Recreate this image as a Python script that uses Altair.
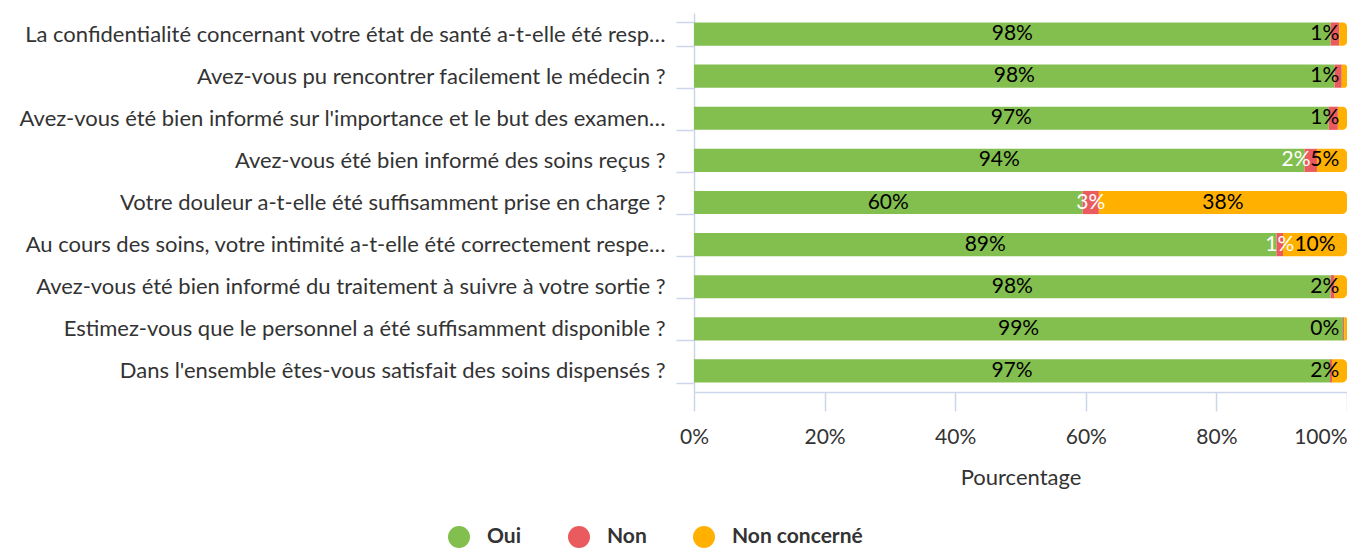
import altair as alt
import pandas as pd

questions = [
    "La confidentialité concernant votre état de santé a-t-elle été resp…",
    "Avez-vous pu rencontrer facilement le médecin ?",
    "Avez-vous été bien informé sur l'importance et le but des examen…",
    "Avez-vous été bien informé des soins reçus ?",
    "Votre douleur a-t-elle été suffisamment prise en charge ?",
    "Au cours des soins, votre intimité a-t-elle été correctement respe…",
    "Avez-vous été bien informé du traitement à suivre à votre sortie ?",
    "Estimez-vous que le personnel a été suffisamment disponible ?",
    "Dans l'ensemble êtes-vous satisfait des soins dispensés ?",
]
oui = [97.5, 98.1, 97.2, 93.5, 59.5, 89.2, 97.5, 99.4, 97.4]
non = [1.3, 1.1, 1.4, 1.9, 2.5, 1.0, 0.6, 0.2, 0.3]
non_concerne = [1.2, 0.8, 1.4, 4.6, 38.0, 9.8, 1.9, 0.4, 2.3]
series = ["Oui", "Non", "Non concerné"]
colors = ["#83BF4F", "#EA5B5F", "#FFB000"]
x_ticks = [0, 20, 40, 60, 80, 100]

rows = []
for i, q in enumerate(questions):
    for j, (s, vals) in enumerate(zip(series, [oui, non, non_concerne])):
        rows.append({"question": q, "series": s, "sorder": j, "value": vals[i]})
df = pd.DataFrame(rows)

FONT = "Lato"
AXIS_COLOR = "#ccd6eb"
TEXT_COLOR = "#333333"

base = alt.Chart(df).transform_stack(
    stack="value",
    groupby=["question"],
    as_=["x0", "x1"],
    sort=[alt.SortField("sorder", order="ascending")],
)

y_enc = alt.Y(
    "question:N",
    sort=questions,
    title=None,
    scale=alt.Scale(paddingInner=0.45, paddingOuter=0.225),
    axis=alt.Axis(
        tickBand="extent",
        tickSize=18,
        tickColor=AXIS_COLOR,
        tickWidth=1.5,
        domainColor=AXIS_COLOR,
        domainWidth=1.5,
        labelFont=FONT,
        labelFontSize=22,
        labelColor=TEXT_COLOR,
        labelPadding=11,
        labelLimit=900,
        grid=False,
    ),
)

x_scale = alt.Scale(domain=[0, 100], nice=False)
x_axis = alt.Axis(
    values=x_ticks,
    labelExpr="datum.value + '%'",
    labelFlush=False,
    labelAlign={"condition": {"test": "datum.value == 100", "value": "right"}, "value": "center"},
    tickSize=19,
    tickColor=AXIS_COLOR,
    tickWidth=1.5,
    domainColor=AXIS_COLOR,
    domainWidth=1.5,
    grid=False,
    labelFont=FONT,
    labelFontSize=21,
    labelColor=TEXT_COLOR,
    labelPadding=15,
    title="Pourcentage",
    titleFont=FONT,
    titleFontSize=22,
    titleFontWeight="normal",
    titleColor=TEXT_COLOR,
    titlePadding=20,
)

color_enc = alt.Color(
    "series:N",
    scale=alt.Scale(domain=series, range=colors),
    legend=alt.Legend(
        title=None,
        orient="none",
        legendX=-246,
        legendY=513,
        direction="horizontal",
        symbolType="circle",
        symbolSize=484,
        symbolStrokeWidth=0,
        symbolOpacity=1,
        labelFont=FONT,
        labelFontSize=21,
        labelFontWeight="bold",
        labelColor=TEXT_COLOR,
        labelOffset=17,
        columnPadding=46,
        padding=0,
    ),
)

bars_main = base.transform_filter("datum.series != 'Non concerné'").mark_bar().encode(
    y=y_enc,
    x=alt.X("x0:Q", scale=x_scale, axis=x_axis),
    x2="x1:Q",
    color=color_enc,
)

bars_end = base.transform_filter("datum.series == 'Non concerné'").mark_bar(
    cornerRadiusTopRight=5, cornerRadiusBottomRight=5
).encode(
    y=y_enc,
    x=alt.X("x0:Q", scale=x_scale, axis=x_axis),
    x2="x1:Q",
    color=color_enc,
)

labels = (
    base.transform_calculate(mid="(datum.x0 + datum.x1) / 2")
    .transform_calculate(lx="min(datum.mid, 96.6)", label="format(datum.value, '.0f') + '%'")
    .transform_calculate(olx="datum.series == 'Non concerné' ? datum.lx : -100")
    .transform_joinaggregate(olx_max="max(olx)", groupby=["question"])
    .transform_filter("datum.series != 'Non' || abs(datum.lx - datum.olx_max) > 2")
    .transform_calculate(tx="datum.series == 'Non' ? min(datum.lx, datum.olx_max - 4.4) : datum.lx")
    .mark_text(font=FONT, fontSize=21, align="center", baseline="middle")
    .encode(
        y=alt.Y("question:N", sort=questions),
        x=alt.X("tx:Q", scale=x_scale),
        text="label:N",
        color=alt.condition("datum.series == 'Non'", alt.value("white"), alt.value("black")),
    )
)

chart = (
    alt.layer(bars_main, bars_end, labels)
    .properties(
        width=653,
        height=379,
        autosize=alt.AutoSizeParams(type="none"),
        padding={"left": 686, "top": 5, "right": 0, "bottom": 156},
    )
    .configure_view(stroke=None)
)

chart.save("out.html", embed_options={"renderer": "svg", "actions": False})
